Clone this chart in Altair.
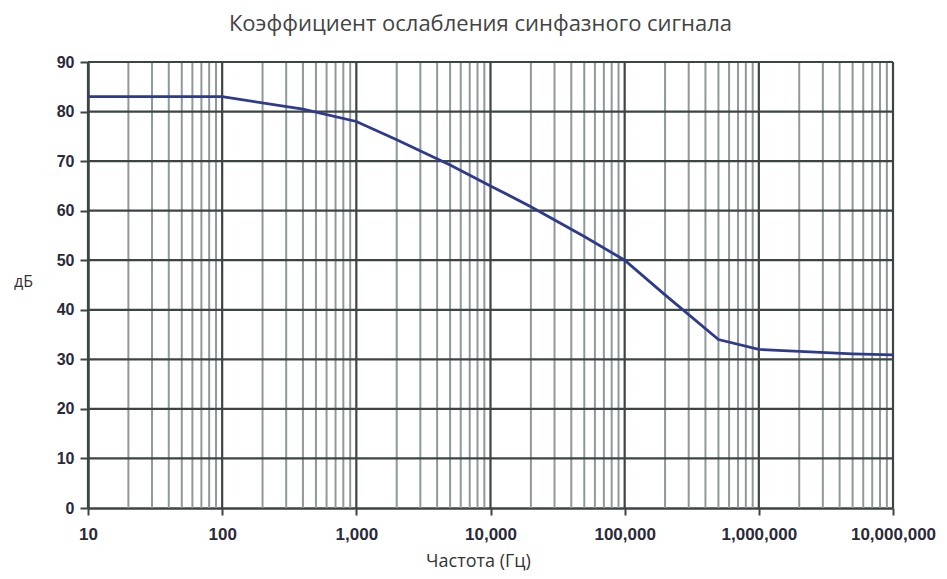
import altair as alt
import pandas as pd

freq = [10, 100, 400, 1000, 2000, 5000, 10000, 20000, 50000, 100000, 200000, 500000, 1000000, 2000000, 5000000, 10000000]
db = [83, 83, 80.5, 78, 74.3, 69.2, 65, 60.8, 54.8, 50, 43, 34, 32, 31.6, 31.1, 30.9]

major_x = [10, 100, 1000, 10000, 100000, 1000000, 10000000]
minor_x = [m * d for d in [10, 100, 1000, 10000, 100000, 1000000] for m in range(2, 10)]
y_ticks = [0, 10, 20, 30, 40, 50, 60, 70, 80, 90]
y_grid = [10, 20, 30, 40, 50, 60, 70, 80, 90]

df = pd.DataFrame({"f": freq, "db": db})
xs = alt.Scale(type="log", domain=[10, 10000000])
ys = alt.Scale(domain=[0, 90])

x_axis = alt.Axis(values=major_x, format=",", title="Частота (Гц)", grid=False,
                  labelFont="Liberation Sans", labelFontWeight="bold", labelFontSize=17,
                  labelColor="#2a2a3a", labelPadding=11, tickSize=7, tickColor="#3c4444",
                  tickWidth=2, domainColor="#3c4444", domainWidth=2.5,
                  labelFlush=False, labelOverlap=False, labelBound=False,
                  titleFont="Open Sans", titleFontWeight="normal", titleFontSize=18,
                  titleColor="#333", titleX=390, titleY=58, titleAlign="center",
                  titleBaseline="alphabetic")
y_axis = alt.Axis(values=y_ticks, title="дБ", grid=False,
                  labelFont="Liberation Sans", labelFontWeight="bold", labelFontSize=16,
                  labelColor="#2a2a3a", labelPadding=6, tickSize=8, tickColor="#3c4444",
                  tickWidth=2, domainColor="#3c4444", domainWidth=2.5,
                  labelFlush=False,
                  titleAngle=0, titleX=-65, titleY=219, titleAlign="center",
                  titleBaseline="middle", titleFont="Open Sans", titleFontWeight="normal",
                  titleFontSize=16, titleColor="#333")

minor = alt.Chart(pd.DataFrame({"v": minor_x})).mark_rule(color="#8f9999", strokeWidth=2).encode(
    x=alt.X("v:Q", scale=xs, axis=x_axis))
major = alt.Chart(pd.DataFrame({"v": major_x})).mark_rule(color="#3c4444", strokeWidth=2.2).encode(
    x=alt.X("v:Q", scale=xs, axis=x_axis))
hgrid = alt.Chart(pd.DataFrame({"v": y_grid})).mark_rule(color="#3c4444", strokeWidth=2.2).encode(
    y=alt.Y("v:Q", scale=ys, axis=y_axis))

line = alt.Chart(df).mark_line(color="#2e3a8c", strokeWidth=2.8).encode(
    x=alt.X("f:Q", scale=xs, axis=x_axis),
    y=alt.Y("db:Q", scale=ys, axis=y_axis),
)

chart = alt.layer(minor, major, hgrid, line).properties(
    width=805, height=446,
    title=alt.TitleParams("Коэффициент ослабления синфазного сигнала", font="Open Sans",
                          fontSize=22, fontWeight="normal", color="#444", offset=18,
                          anchor="middle", dx=-10),
    autosize=alt.AutoSizeParams(type="none"),
    padding={"left": 80, "top": 54, "right": 46, "bottom": 63},
).configure_view(stroke=None)

chart.save("out.html", embed_options={"renderer": "svg", "actions": False})
